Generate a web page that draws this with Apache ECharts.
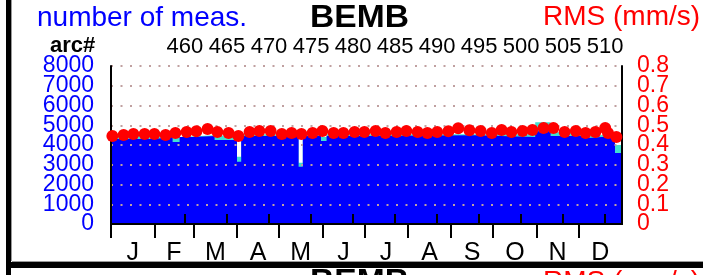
<!DOCTYPE html>
<html>
<head>
<meta charset="utf-8">
<script src="https://cdn.jsdelivr.net/npm/echarts@6/dist/echarts.min.js"></script>
<style>
  html, body { margin: 0; padding: 0; background: #fff; }
  #chart { width: 703px; height: 275px; }
</style>
</head>
<body>
<div id="chart"></div>
<script>
// month letters and first day of each month (day of year)
const months = ['J', 'F', 'M', 'A', 'M', 'J', 'J', 'A', 'S', 'O', 'N', 'D']
const monthStarts = [0, 31, 59, 90, 120, 151, 181, 212, 243, 273, 304, 334]
const arcTicks = [460, 465, 470, 475, 480, 485, 490, 495, 500, 505, 510]
const countTicks = [0, 1000, 2000, 3000, 4000, 5000, 6000, 7000, 8000]
const rmsTicks = [0, 0.1, 0.2, 0.3, 0.4, 0.5, 0.6, 0.7, 0.8]

// number of measurements, [day, count] change points (step)
const measCyan = [
  [0, 4500], [44, 4400], [49, 4500], [74, 4450], [90, 3400], [93, 4550],
  [134, 3100], [137, 4550], [150, 4400], [154, 4550], [260, 4550],
  [303, 5150], [314, 4650], [327, 4550], [338, 4450], [341, 4550],
  [360, 4000], [365, 4000]
]
const measBlue = [
  [0, 4300], [31, 4400], [44, 4150], [49, 4400], [59, 4450], [74, 4250],
  [90, 3150], [93, 4450], [134, 2900], [137, 4450], [150, 4200], [154, 4450],
  [181, 4500], [260, 4450], [278, 4400], [303, 4700], [314, 4450],
  [338, 4350], [341, 4450], [360, 3600], [365, 3600]
]

// RMS (mm/s), roughly weekly
const rmsDays = [
  1, 9, 16, 24, 31, 39, 46, 54, 61, 69, 76, 84, 91, 99, 106, 114, 122, 129,
  136, 144, 151, 159, 166, 174, 181, 189, 196, 204, 211, 219, 226, 233, 241,
  248, 256, 264, 272, 279, 286, 294, 301, 309, 316, 324, 332, 339, 346, 353,
  355, 361
]
const rmsValues = [
  0.446, 0.451, 0.456, 0.456, 0.456, 0.451, 0.461, 0.466, 0.47, 0.481, 0.466,
  0.461, 0.446, 0.466, 0.471, 0.471, 0.456, 0.461, 0.456, 0.461, 0.471, 0.461,
  0.461, 0.466, 0.466, 0.471, 0.461, 0.466, 0.471, 0.466, 0.461, 0.466, 0.47,
  0.485, 0.475, 0.471, 0.461, 0.476, 0.466, 0.471, 0.476, 0.486, 0.486, 0.466,
  0.471, 0.461, 0.466, 0.486, 0.461, 0.44
]

const font = "'Liberation Sans', Arial, sans-serif"
const blue = '#0000ff'
const red = '#ff0000'
const monthMids = monthStarts.map((s, i) => s + ((monthStarts[i + 1] || 365) - s) / 2)

// labels sit closer than their height, so split them over two stacked axes
// to stop echarts from dropping the overlapping ones
function sideAxis (max, ticks, color, position, margin, withLine) {
  return {
    type: 'value',
    min: 0,
    max: max,
    position: position,
    z: 3,
    axisLine: {show: withLine, lineStyle: {color: '#000', width: 2}},
    axisTick: {show: false},
    axisLabel: {
      customValues: ticks,
      hideOverlap: false,
      showMinLabel: true,
      showMaxLabel: true,
      margin: margin,
      fontSize: 23,
      fontFamily: font,
      color: color,
      formatter: v => String(v)
    },
    splitLine: {show: false}
  }
}
const even = (v, i) => i % 2 === 0
const odd = (v, i) => i % 2 === 1

const countAxis = sideAxis(8000, countTicks.filter(even), blue, 'left', 17, true)
countAxis.splitLine = {show: true, lineStyle: {color: '#c0a0a0', width: 2, type: [2, 7.5]}}
countAxis.interval = 1000

const chart = echarts.init(document.getElementById('chart'))
chart.setOption({
  animation: false,
  grid: {left: 111, right: 81, top: 66, bottom: 51},
  xAxis: [
    {
      type: 'value',
      min: 0,
      max: 365,
      position: 'bottom',
      z: 4,
      axisLine: {show: true, lineStyle: {color: '#000', width: 2}},
      axisTick: {show: true, customValues: monthStarts, length: 14, lineStyle: {color: '#000', width: 2}},
      axisLabel: {
        customValues: monthMids,
        hideOverlap: false,
        margin: 17,
        fontSize: 25,
        fontFamily: font,
        color: '#000',
        formatter: v => months[monthMids.indexOf(v)]
      },
      splitLine: {show: false}
    },
    {
      type: 'value',
      min: 451.2,
      max: 512,
      position: 'top',
      z: 4,
      axisLine: {show: true, lineStyle: {color: '#000', width: 2}},
      axisTick: {show: true, customValues: arcTicks, length: 10, lineStyle: {color: '#000', width: 2}},
      axisLabel: {customValues: arcTicks, hideOverlap: false, margin: 8, fontSize: 22, fontFamily: font, color: '#000'},
      splitLine: {show: false}
    }
  ],
  yAxis: [
    countAxis,
    sideAxis(0.8, rmsTicks.filter(even), red, 'right', 15, true),
    sideAxis(8000, countTicks.filter(odd), blue, 'left', 17, false),
    sideAxis(0.8, rmsTicks.filter(odd), red, 'right', 15, false)
  ],
  series: [
    {
      name: 'meas2',
      type: 'line',
      step: 'end',
      data: measCyan,
      symbol: 'none',
      lineStyle: {width: 0, opacity: 0},
      areaStyle: {color: '#40e0d0', opacity: 1},
      z: 1
    },
    {
      name: 'meas',
      type: 'line',
      step: 'end',
      data: measBlue,
      symbol: 'none',
      lineStyle: {width: 0, opacity: 0},
      areaStyle: {color: blue, opacity: 1},
      z: 1
    },
    {
      name: 'RMS',
      type: 'scatter',
      xAxisIndex: 0,
      yAxisIndex: 1,
      data: rmsDays.map((d, i) => [d, rmsValues[i]]),
      symbolSize: 12,
      itemStyle: {color: red, opacity: 1},
      clip: false,
      z: 5
    }
  ],
  graphic: [
    // next panel header, mostly cut off
    {type: 'text', x: 310, y: 266, scaleX: 1.05, style: {text: 'BEMB', fontSize: 32, fontWeight: 'bold', fontFamily: font, fill: '#000', verticalAlign: 'top'}},
    {type: 'text', x: 543, y: 268, style: {text: 'RMS (mm/s)', fontSize: 28, fontFamily: font, fill: red, verticalAlign: 'top'}},
    {type: 'rect', shape: {x: 12, y: 261, width: 691, height: 1}, style: {fill: '#999'}},
    {type: 'rect', shape: {x: 6, y: 262, width: 697, height: 6}, style: {fill: '#000'}},
    {type: 'rect', shape: {x: 6, y: 0, width: 5, height: 275}, style: {fill: '#000'}},
    {type: 'rect', shape: {x: 11, y: 0, width: 1, height: 261}, style: {fill: '#999'}},
    {type: 'text', x: 37, y: 18, style: {text: 'number of meas.', fontSize: 28, fontFamily: font, fill: blue, verticalAlign: 'middle'}},
    {type: 'text', x: 310, y: 18, scaleX: 1.05, style: {text: 'BEMB', fontSize: 32, fontWeight: 'bold', fontFamily: font, fill: '#000', verticalAlign: 'middle'}},
    {type: 'text', x: 543, y: 17, style: {text: 'RMS (mm/s)', fontSize: 28, fontFamily: font, fill: red, verticalAlign: 'middle'}},
    {type: 'text', x: 50, y: 46, style: {text: 'arc#', fontSize: 22, fontWeight: 'bold', fontFamily: font, fill: '#000', verticalAlign: 'middle'}}
  ]
})
</script>
</body>
</html>
